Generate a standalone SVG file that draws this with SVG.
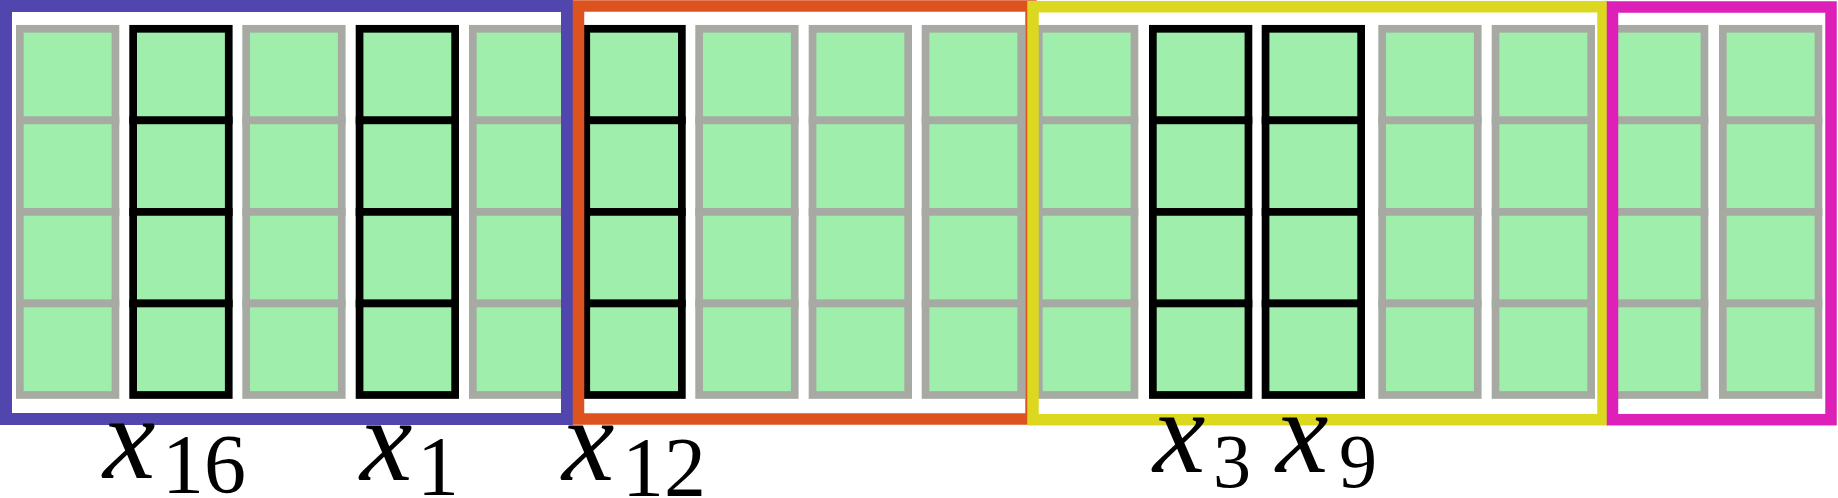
<svg xmlns="http://www.w3.org/2000/svg" xmlns:xlink="http://www.w3.org/1999/xlink" width="1838" height="498" viewBox="0 0 1838 498">
<style>
.g{fill:#a0eeac;stroke:#a7aaa3;stroke-width:7.7}
.b{fill:#a0eeac;stroke:#000;stroke-width:7.7}
.fr{fill:none}
.v{font-family:"Liberation Serif","Times New Roman",serif;font-style:italic;font-size:118px;fill:#000}
.s{font-family:"Liberation Serif","Times New Roman",serif;font-size:84px;fill:#000}
.s2{font-family:"Liberation Serif","Times New Roman",serif;font-size:76px;fill:#000}
</style>
<defs>
<g id="cells">
<rect x="0" y="28.8" width="95.6" height="91.55"/>
<rect x="0" y="120.35" width="95.6" height="91.55"/>
<rect x="0" y="211.9" width="95.6" height="91.55"/>
<rect x="0" y="303.45" width="95.6" height="91.55"/>
</g>
</defs>
<rect width="1838" height="498" fill="#fff"/>
<g id="columns">
<g id="col1"><use xlink:href="#cells" href="#cells" x="19.85" class="g"/></g>
<g id="col2"><use xlink:href="#cells" href="#cells" x="133.15" class="b"/></g>
<g id="col3"><use xlink:href="#cells" href="#cells" x="246.15" class="g"/></g>
<g id="col4"><use xlink:href="#cells" href="#cells" x="359.55" class="b"/></g>
<g id="col5"><use xlink:href="#cells" href="#cells" x="472.85" class="g"/></g>
<g id="col6"><use xlink:href="#cells" href="#cells" x="586.25" class="b"/></g>
<g id="col7"><use xlink:href="#cells" href="#cells" x="699.15" class="g"/></g>
<g id="col8"><use xlink:href="#cells" href="#cells" x="812.55" class="g"/></g>
<g id="col9"><use xlink:href="#cells" href="#cells" x="925.55" class="g"/></g>
<g id="col10"><use xlink:href="#cells" href="#cells" x="1038.85" class="g"/></g>
<g id="col11"><use xlink:href="#cells" href="#cells" x="1152.85" class="b"/></g>
<g id="col12"><use xlink:href="#cells" href="#cells" x="1265.55" class="b"/></g>
<g id="col13"><use xlink:href="#cells" href="#cells" x="1382.15" class="g"/></g>
<g id="col14"><use xlink:href="#cells" href="#cells" x="1495.55" class="g"/></g>
<g id="col15"><use xlink:href="#cells" href="#cells" x="1608.85" class="g"/></g>
<g id="col16"><use xlink:href="#cells" href="#cells" x="1722.85" class="g"/></g>
</g>
<g id="frames">
<rect id="frame-purple" class="fr" x="6" y="6" width="561" height="413" stroke="#5046ae" stroke-width="12"/>
<rect id="frame-orange" class="fr" x="578.5" y="6" width="452.5" height="413" stroke="#dd5320" stroke-width="11.5"/>
<rect id="frame-yellow" class="fr" x="1033" y="6.7" width="570" height="413" stroke="#dcd820" stroke-width="11.5"/>
<rect id="frame-magenta" class="fr" x="1612.5" y="7" width="218.5" height="412.7" stroke="#dc20b8" stroke-width="11.5"/>
</g>
<g id="labels">
<g id="label-x16"><text><tspan class="v" x="103" y="478">x</tspan><tspan class="s" x="162" y="493">16</tspan></text></g>
<g id="label-x1"><text><tspan class="v" x="360" y="480">x</tspan><tspan class="s" x="417" y="495">1</tspan></text></g>
<g id="label-x12"><text><tspan class="v" x="562" y="480">x</tspan><tspan class="s" x="622" y="496">12</tspan></text></g>
<g id="label-x3"><text><tspan class="v" x="1153" y="472">x</tspan><tspan class="s2" x="1213" y="487">3</tspan></text></g>
<g id="label-x9"><text><tspan class="v" x="1276" y="472">x</tspan><tspan class="s2" x="1339" y="487">9</tspan></text></g>
</g>
</svg>
